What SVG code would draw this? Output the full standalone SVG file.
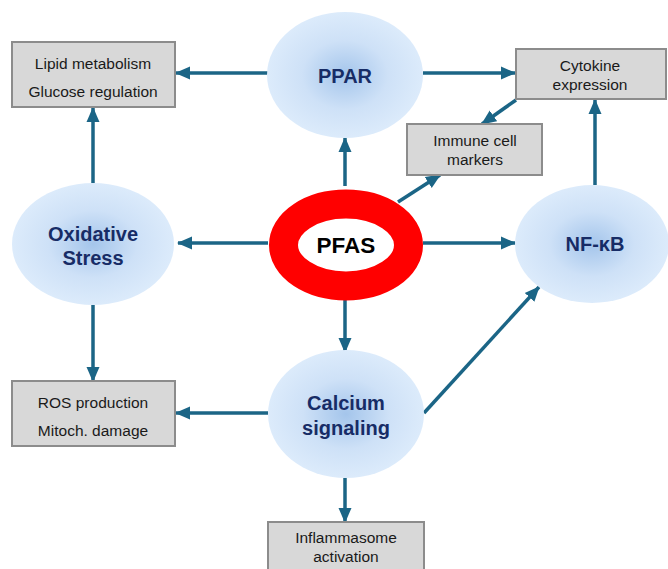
<svg xmlns="http://www.w3.org/2000/svg" width="668" height="569" viewBox="0 0 668 569">
<defs>
<radialGradient id="blue" cx="50%" cy="50%" r="50%">
<stop offset="0%" stop-color="#a4c5eb"/>
<stop offset="55%" stop-color="#cee1f7"/>
<stop offset="100%" stop-color="#dcebfb"/>
</radialGradient>
<marker id="ah" markerUnits="userSpaceOnUse" markerWidth="15" markerHeight="15" viewBox="0 0 15 15" refX="14" refY="7.5" orient="auto">
<path d="M0,1 L15,7.5 L0,14 Z" fill="#1b6586"/>
</marker>
<style>
.box{fill:#d8d8d8;stroke:#8c8c8c;stroke-width:2}
.bt{font-family:"Liberation Sans",Arial,sans-serif;font-size:15.5px;fill:#1a1a1a;text-anchor:middle}
.node{fill:url(#blue)}
.nt{font-family:"Liberation Sans",Arial,sans-serif;font-size:20px;font-weight:bold;fill:#172c66;text-anchor:middle}
.con line{stroke:#1b6586;stroke-width:3.5;marker-end:url(#ah)}
</style>
</defs>
<rect width="668" height="569" fill="#ffffff"/>
<g class="con" id="connectors">
<line x1="268" y1="73" x2="176" y2="73"/>
<line x1="423" y1="73" x2="515" y2="73"/>
<line x1="345" y1="186" x2="345" y2="138"/>
<line x1="398" y1="202" x2="440" y2="175"/>
<line x1="516" y1="100" x2="482" y2="124"/>
<line x1="595" y1="185" x2="595" y2="100"/>
<line x1="268" y1="243" x2="178" y2="243"/>
<line x1="423" y1="243" x2="515" y2="243"/>
<line x1="93" y1="183" x2="93" y2="108"/>
<line x1="93" y1="305" x2="93" y2="381"/>
<line x1="345" y1="300" x2="345" y2="352"/>
<line x1="268" y1="413" x2="176" y2="413"/>
<line x1="345" y1="478" x2="345" y2="522"/>
<line x1="424" y1="413" x2="539" y2="287"/>
</g>
<g id="lipid">
<rect class="box" x="12" y="42" width="163" height="65"/>
<text class="bt" x="93" y="69">Lipid metabolism</text>
<text class="bt" x="93" y="97">Glucose regulation</text>
</g>
<g id="cytokine">
<rect class="box" x="516" y="49" width="150" height="50"/>
<text class="bt" x="590" y="71">Cytokine</text>
<text class="bt" x="590" y="90">expression</text>
</g>
<g id="immune">
<rect class="box" x="407" y="124" width="135" height="51"/>
<text class="bt" x="475" y="146">Immune cell</text>
<text class="bt" x="475" y="165">markers</text>
</g>
<g id="ros">
<rect class="box" x="12" y="381" width="163" height="65"/>
<text class="bt" x="93" y="408">ROS production</text>
<text class="bt" x="93" y="436">Mitoch. damage</text>
</g>
<g id="inflammasome">
<rect class="box" x="268" y="522" width="156" height="56"/>
<text class="bt" x="346" y="543">Inflammasome</text>
<text class="bt" x="346" y="562">activation</text>
</g>
<g id="ppar">
<ellipse class="node" cx="345" cy="75" rx="78" ry="63"/>
<text class="nt" x="345" y="83" font-size="21">PPAR</text>
</g>
<g id="oxidative">
<ellipse class="node" cx="93" cy="244" rx="81" ry="61"/>
<text class="nt" x="93" y="241">Oxidative</text>
<text class="nt" x="93" y="265">Stress</text>
</g>
<g id="nfkb">
<ellipse class="node" cx="592" cy="244" rx="77" ry="59"/>
<text class="nt" x="595" y="251">NF-κB</text>
</g>
<g id="calcium">
<ellipse class="node" cx="346" cy="414" rx="78" ry="64"/>
<text class="nt" x="346" y="410">Calcium</text>
<text class="nt" x="346" y="435">signaling</text>
</g>
<g id="pfas">
<ellipse cx="346" cy="245" rx="62.5" ry="41" fill="none" stroke="#ff0000" stroke-width="29"/>
<text x="346" y="253" font-family="Liberation Sans,Arial,sans-serif" font-size="22.5" font-weight="bold" fill="#000000" text-anchor="middle">PFAS</text>
</g>
</svg>
